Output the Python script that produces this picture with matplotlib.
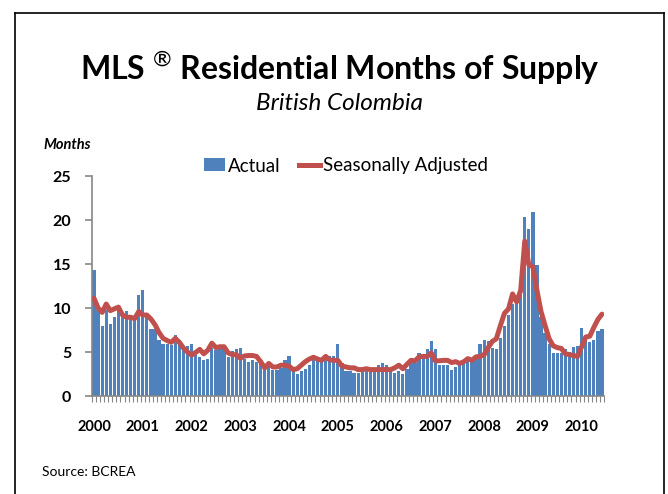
import numpy as np
import pandas as pd
import matplotlib
matplotlib.use("Agg")
import matplotlib.pyplot as plt
from matplotlib.lines import Line2D
from matplotlib.patches import Patch

plt.rcParams["font.family"] = ["Lato", "DejaVu Sans"]
plt.rcParams["mathtext.fontset"] = "custom"
plt.rcParams["mathtext.rm"] = "Lato"
plt.rcParams["mathtext.bf"] = "Lato:bold"

# monthly data, Jan 2000 - Jun 2010
months = pd.date_range("2000-01-01", periods=126, freq="MS")

actual = [
    14.3, 9.8, 8.0, 9.8, 8.2, 9.0, 9.8, 9.4, 9.7, 8.75, 8.7, 11.5,      # 2000
    12.05, 9.4, 7.6, 7.6, 6.35, 5.9, 5.95, 5.8, 6.9, 6.35, 5.45, 5.65,  # 2001
    5.9, 4.65, 4.4, 4.1, 4.25, 5.4, 5.2, 5.5, 5.5, 4.4, 5.1, 5.3,       # 2002
    5.5, 4.2, 3.9, 4.05, 3.9, 3.7, 3.2, 3.3, 3.0, 3.0, 3.2, 4.05,       # 2003
    4.6, 3.1, 2.5, 2.85, 3.1, 3.5, 4.05, 4.25, 4.05, 4.45, 4.6, 4.6,    # 2004
    5.9, 3.7, 2.85, 2.85, 2.6, 2.6, 2.9, 3.2, 3.2, 3.2, 3.5, 3.75,      # 2005
    3.5, 3.0, 2.6, 2.85, 2.55, 3.1, 3.7, 3.7, 4.9, 4.8, 5.3, 6.3,       # 2006
    5.3, 3.5, 3.5, 3.5, 3.0, 3.3, 3.5, 3.7, 4.4, 4.0, 4.6, 5.9,         # 2007
    6.35, 6.2, 5.5, 5.3, 6.6, 7.9, 9.2, 10.5, 10.9, 11.5, 20.3, 19.0,   # 2008
    20.9, 14.9, 9.0, 7.15, 5.9, 4.9, 4.9, 4.9, 5.3, 5.0, 5.6, 5.65,     # 2009
    7.7, 6.9, 6.15, 6.35, 7.4, 7.6,                                     # 2010
]

seasonally_adjusted = [
    11.1, 10.0, 9.5, 10.45, 9.7, 9.9, 10.1, 9.2, 8.95, 8.95, 8.8, 9.6,  # 2000
    9.2, 9.2, 8.75, 8.1, 7.2, 6.55, 6.3, 6.1, 6.55, 6.1, 5.45, 5.0,     # 2001
    4.65, 4.95, 5.3, 4.8, 5.2, 6.0, 5.5, 5.6, 5.6, 4.9, 4.7, 4.7,       # 2002
    4.3, 4.55, 4.6, 4.6, 4.5, 3.9, 3.2, 3.7, 3.3, 3.3, 3.5, 3.5,        # 2003
    3.4, 3.0, 3.1, 3.5, 3.9, 4.2, 4.4, 4.2, 4.05, 4.5, 4.1, 4.05,       # 2004
    4.05, 3.4, 3.3, 3.2, 3.2, 3.0, 3.0, 3.1, 3.0, 3.0, 3.0, 3.0,        # 2005
    3.0, 3.0, 3.2, 3.5, 3.1, 3.6, 4.05, 4.0, 4.45, 4.5, 4.5, 4.9,       # 2006
    4.0, 4.0, 4.05, 4.05, 3.8, 3.9, 3.7, 3.9, 4.25, 4.05, 4.45, 4.5,    # 2007
    4.7, 5.5, 6.2, 6.5, 8.0, 9.4, 9.9, 11.6, 10.7, 12.0, 17.6, 14.9,    # 2008
    14.7, 12.0, 9.6, 8.0, 6.5, 5.7, 5.5, 5.4, 4.8, 4.7, 4.6, 4.5,       # 2009
    5.6, 6.7, 6.8, 7.8, 8.7, 9.3,                                       # 2010
]

BLUE = "#4F81BD"
RED = "#C0504D"
GREY = "#868686"

W, H = 668, 494
fig = plt.figure(figsize=(W / 100, H / 100), dpi=100)


def fx(px):
    return px / W


def fy(py):
    return 1 - py / H


# outer frame (left, top, right edges)
for xs, ys in [((15, 15), (13, 494)), ((15, 664), (13, 13)), ((664, 664), (13, 494))]:
    fig.add_artist(Line2D([fx(x) for x in xs], [fy(y) for y in ys],
                          color="black", lw=1.2))

ax = fig.add_axes([fx(92), fy(396), fx(604) - fx(92), fy(176) - fy(396)])

x = np.arange(len(months))
ax.bar(x, actual, width=0.8, color=BLUE, zorder=2)
ax.plot(x, seasonally_adjusted, color=RED, lw=3.6, solid_joinstyle="round",
        solid_capstyle="round", zorder=3)

ax.set_xlim(-0.5, len(months) - 0.5)
ax.set_ylim(0, 25)
yt = list(range(0, 26, 5))
ax.set_yticks(yt)
ax.set_yticklabels([str(v) for v in yt], fontsize=11.5, fontweight="bold")

jan = [i for i, m in enumerate(months) if m.month == 1]
ax.set_xticks(jan)
ax.set_xticklabels([str(months[i].year) for i in jan], fontsize=10.5, fontweight="bold")
ax.set_xticks(np.arange(-0.5, len(months), 1), minor=True)
ax.tick_params(axis="x", which="major", length=0, pad=17)
ax.tick_params(axis="x", which="minor", length=4, color=GREY, width=0.8)
ax.tick_params(axis="y", length=5, color=GREY, width=1.2, pad=10)

for side in ("top", "right"):
    ax.spines[side].set_visible(False)
for side in ("left", "bottom"):
    ax.spines[side].set_color(GREY)
    ax.spines[side].set_linewidth(1.2)

fig.text(fx(340), fy(68), "MLS $^{\\circledR}$ Residential Months of Supply",
         ha="center", va="center", fontsize=23, fontweight="bold")
fig.text(fx(339), fy(103), "British Colombia", ha="center", va="center",
         fontsize=17.5, style="italic")
fig.text(fx(43), fy(145), "Months", ha="left", va="center", fontsize=10.5,
         fontweight="bold", style="italic")
fig.text(fx(42), fy(472), "Source: BCREA", ha="left", va="center", fontsize=10)

handles = [Patch(facecolor=BLUE, edgecolor="none", label="Actual"),
           Line2D([0], [0], color=RED, lw=3.6, label="Seasonally Adjusted")]
fig.legend(handles=handles, loc="center", bbox_to_anchor=(fx(346), fy(166)),
           ncol=2, frameon=False, fontsize=13.5, handlelength=1.1,
           handletextpad=0.15, columnspacing=1.0, borderpad=0)

fig.savefig("out.png", dpi=100)
